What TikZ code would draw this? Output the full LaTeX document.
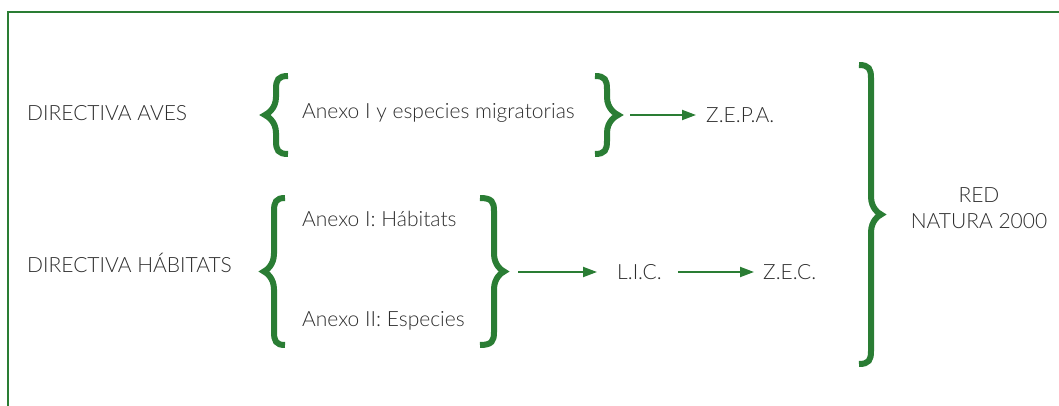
\documentclass[tikz,border=0pt]{standalone}
\usepackage{fontspec}
\setmainfont{Lato Light}
\usetikzlibrary{arrows.meta}
\definecolor{vgreen}{RGB}{42,125,52}
\definecolor{tgray}{RGB}{45,45,45}
\newcommand{\lbrc}[5]{% tip x, stem x, end x, top y, bottom y
  \pgfmathsetmacro{\ym}{(#4+#5)/2}
  \draw[bracestyle] (#3,#4) .. controls (#2+2,#4) and (#2,#4+4) .. (#2,#4+13)
    -- (#2,\ym-18) .. controls (#2,\ym-6) and (#1+2,\ym-1) .. (#1,\ym)
    .. controls (#1+2,\ym+1) and (#2,\ym+6) .. (#2,\ym+18)
    -- (#2,#5-13) .. controls (#2,#5-4) and (#2+2,#5) .. (#3,#5);}
\newcommand{\rbrc}[5]{%
  \pgfmathsetmacro{\ym}{(#4+#5)/2}
  \draw[bracestyle] (#3,#4) .. controls (#2-2,#4) and (#2,#4+4) .. (#2,#4+13)
    -- (#2,\ym-18) .. controls (#2,\ym-6) and (#1-2,\ym-1) .. (#1,\ym)
    .. controls (#1-2,\ym+1) and (#2,\ym+6) .. (#2,\ym+18)
    -- (#2,#5-13) .. controls (#2,#5-4) and (#2-2,#5) .. (#3,#5);}
\begin{document}
\begin{tikzpicture}[x=1pt,y=-1pt,
  bracestyle/.style={draw=vgreen,line width=6pt,line cap=butt},
  lbl/.style={text=tgray,inner sep=0pt,font=\fontsize{21}{26}\selectfont},
  arr/.style={draw=vgreen,line width=2pt,-{Triangle[length=14pt,width=10pt]}},
  frame/.style={draw=vgreen,line width=2pt}]
\useasboundingbox (0,0) rectangle (1059,406);
\draw[frame] (8,406) -- (8,12.5) -- (1059,12.5);
% texts
\node[lbl,anchor=west] (aves) at (27,113) {DIRECTIVA AVES};
\node[lbl,anchor=west] (hab) at (27,263) {DIRECTIVA HÁBITATS};
\node[lbl,anchor=west] (anx1) at (302,113) {Anexo I y especies migratorias};
\node[lbl,anchor=west] (anxh) at (302,219) {Anexo I: Hábitats};
\node[lbl,anchor=west] (anxe) at (302,321) {Anexo II: Especies};
\node[lbl,anchor=west] (zepa) at (706,115) {Z.E.P.A.};
\node[lbl,anchor=west] (lic) at (617,272) {L.I.C.};
\node[lbl,anchor=west] (zec) at (763,272) {Z.E.C.};
\node[lbl,align=center] (red) at (979,208) {RED\\NATURA 2000};
% braces
\lbrc{265}{276}{288}{76}{154}
\rbrc{618}{607}{595}{76}{154}
\lbrc{264}{274}{285}{198}{345}
\rbrc{504}{494}{480}{198}{345}
\rbrc{881}{871}{859}{65}{364}
% arrows
\coordinate (b1) at (630,115);
\coordinate (b2) at (518,272);
\draw[arr] (b1) -- ([xshift=-10pt]zepa.west |- b1);
\draw[arr] (b2) -- ([xshift=-20pt]lic.west |- b2);
\draw[arr] ([xshift=16pt]lic.east) -- ([xshift=-9pt]zec.west);
\end{tikzpicture}
\end{document}
